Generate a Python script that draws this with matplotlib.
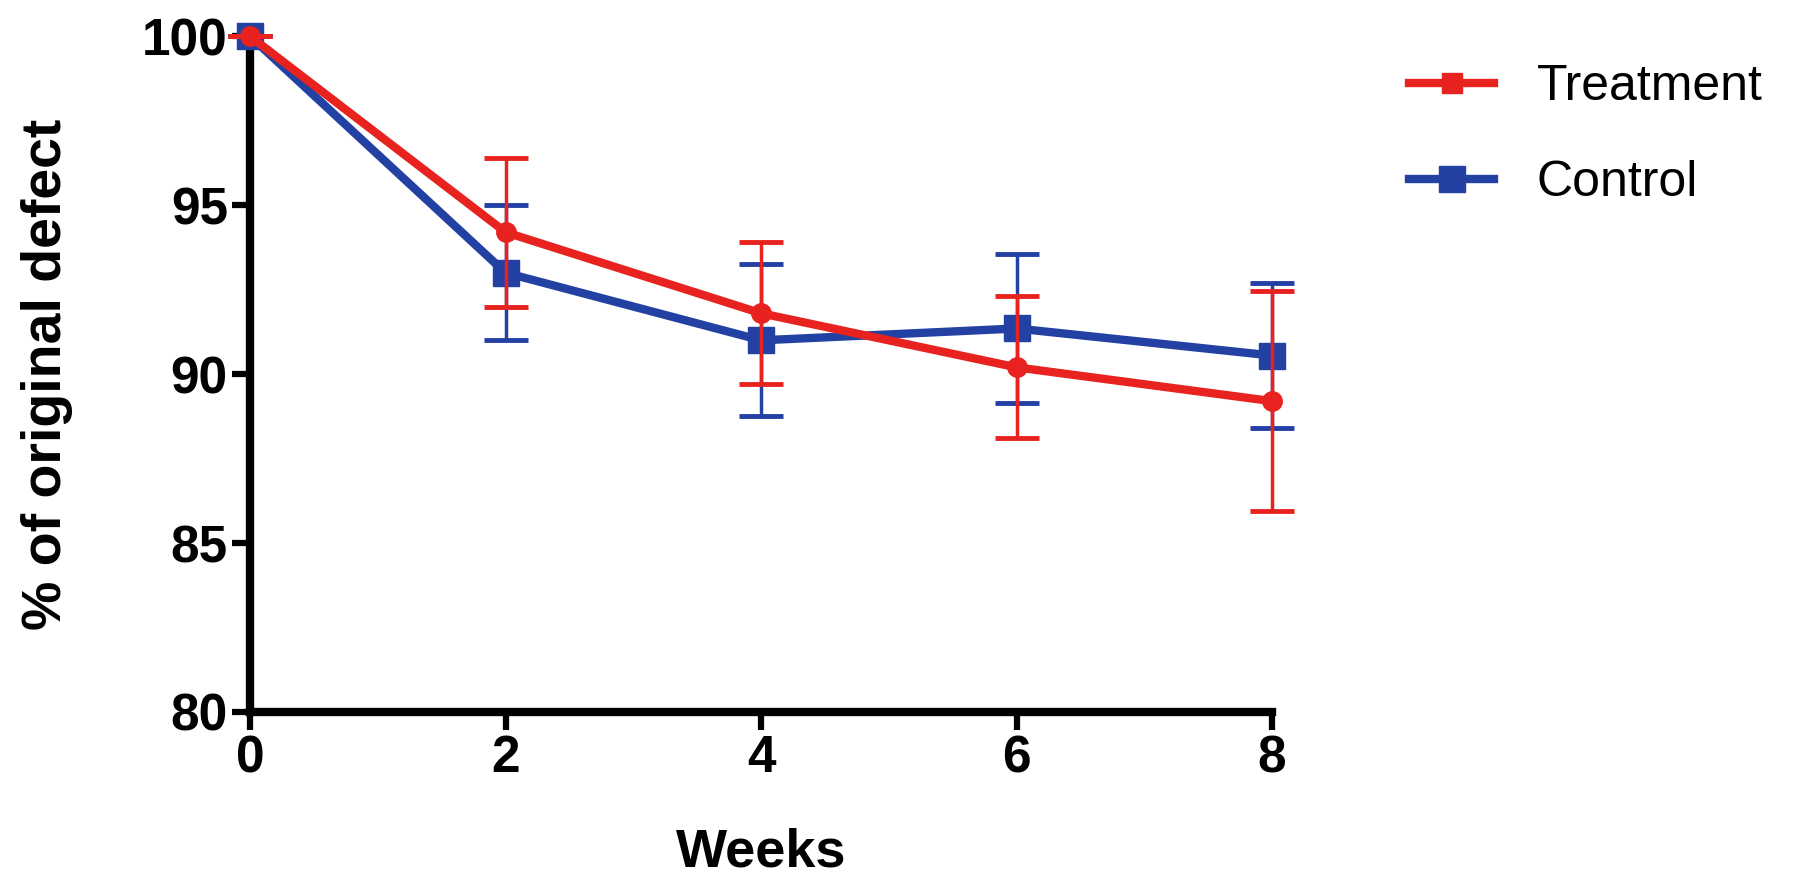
import matplotlib
matplotlib.use("Agg")
import matplotlib.pyplot as plt
from matplotlib.lines import Line2D

plt.rcParams['font.family'] = ['Liberation Sans', 'DejaVu Sans']

weeks = [0, 2, 4, 6, 8]
treatment = [100, 94.2, 91.8, 90.2, 89.2]
treatment_err = [0, 2.2, 2.1, 2.1, 3.25]
control = [100, 93.0, 91.0, 91.35, 90.55]
control_err = [0, 2.0, 2.25, 2.2, 2.15]

red = '#e8231f'
blue = '#2340a3'

fig = plt.figure(figsize=(18, 8.84), dpi=100)
ax = fig.add_axes([0.1389, 0.1946, 0.5678, 0.7644])

ax.errorbar(weeks, control, yerr=control_err, color=blue, lw=6, marker='s',
            ms=19, capsize=16, capthick=3.5, elinewidth=2.5, clip_on=False,
            zorder=3)
ax.errorbar(weeks, treatment, yerr=treatment_err, color=red, lw=6, marker='o',
            ms=14, capsize=16, capthick=3.5, elinewidth=2.5, clip_on=False,
            zorder=4)

ax.set_xlim(0, 8)
ax.set_ylim(80, 100)
ax.set_xticks([0, 2, 4, 6, 8])
ax.set_yticks([80, 85, 90, 95, 100])
for s in ['top', 'right']:
    ax.spines[s].set_visible(False)
for s in ['left', 'bottom']:
    ax.spines[s].set_linewidth(6)
ax.tick_params(width=4.5, length=13, labelsize=37, pad=3)
for lab in ax.get_xticklabels() + ax.get_yticklabels():
    lab.set_fontweight('bold')

ax.set_xlabel('Weeks', fontsize=39, fontweight='bold', labelpad=32)
ax.set_ylabel('% of original defect', fontsize=40, fontweight='bold', labelpad=50)

handles = [Line2D([], [], color=red, lw=6, marker='s', ms=15),
           Line2D([], [], color=blue, lw=6, marker='s', ms=19)]
fig.legend(handles, ['Treatment', 'Control'], loc='upper left',
           bbox_to_anchor=(0.758, 0.978), frameon=False, fontsize=36,
           handlelength=1.7, labelspacing=1.0, handletextpad=0.85)

fig.savefig('out.png', dpi=100)
